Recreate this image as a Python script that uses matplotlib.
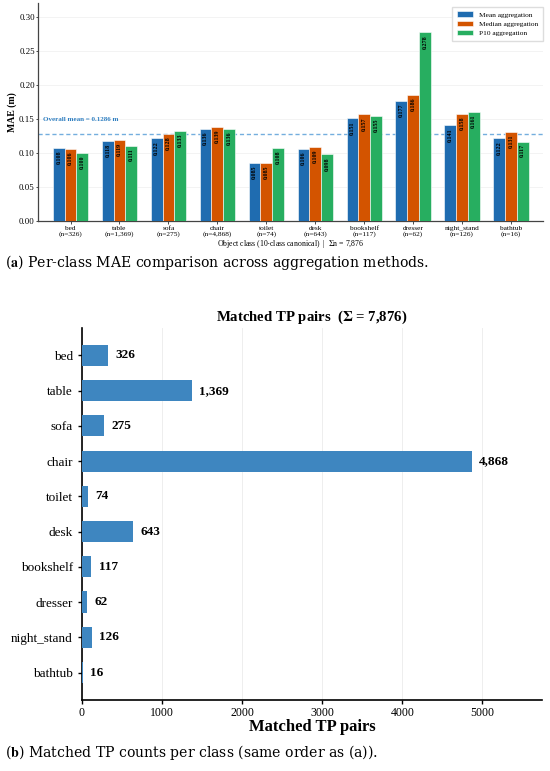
import numpy as np
import matplotlib
matplotlib.use("Agg")
import matplotlib.pyplot as plt

# ---- data ----
classes = ["bed", "table", "sofa", "chair", "toilet", "desk",
           "bookshelf", "dresser", "night_stand", "bathtub"]
counts = [326, 1369, 275, 4868, 74, 643, 117, 62, 126, 16]
mae_mean = [0.108, 0.118, 0.122, 0.136, 0.085, 0.106, 0.151, 0.177, 0.141, 0.122]
mae_median = [0.106, 0.119, 0.128, 0.139, 0.085, 0.109, 0.157, 0.186, 0.158, 0.131]
mae_p10 = [0.100, 0.111, 0.133, 0.136, 0.108, 0.098, 0.155, 0.278, 0.161, 0.117]
overall_mean = 0.1286

plt.rcParams["font.family"] = ["Liberation Serif", "DejaVu Serif"]
plt.rcParams["mathtext.fontset"] = "stix"

fig = plt.figure(figsize=(5.5, 7.71), dpi=100)

# ---- (a) grouped bars ----
ax1 = fig.add_axes([0.0696, 0.7134, 0.918, 0.2823])
x = np.arange(len(classes))
w = 0.24
series = [("Mean aggregation", mae_mean, "#1f6cb0"),
          ("Median aggregation", mae_median, "#d35400"),
          ("P10 aggregation", mae_p10, "#27ae60")]
for i, (lab, vals, col) in enumerate(series):
    bars = ax1.bar(x + (i - 1) * w, vals, w, color=col, label=lab,
                   edgecolor="white", linewidth=0.4, zorder=3)
    for b, v in zip(bars, vals):
        ax1.text(b.get_x() + b.get_width() / 2, v - 0.004, f"{v:.3f}",
                 rotation=90, ha="center", va="top", fontsize=4.3,
                 fontweight="bold", color="black", zorder=4)

ax1.axhline(overall_mean, color="#74aede", linestyle=(0, (3, 2)), linewidth=1.0, zorder=2)
ax1.text(-0.57, overall_mean + 0.017, f"Overall mean = {overall_mean} m",
         color="#2f7fc1", fontsize=5, fontweight="bold", va="bottom", ha="left")

ax1.set_xlim(-0.66, 9.66)
ax1.set_ylim(0, 0.3206)
ax1.set_yticks(np.arange(0, 0.31, 0.05))
ax1.set_yticklabels([f"{t:.2f}" for t in np.arange(0, 0.31, 0.05)])
ax1.set_xticks(x)
ax1.set_xticklabels([f"{c}\n(n={n:,})" for c, n in zip(classes, counts)],
                    linespacing=1.0)
ax1.tick_params(axis="x", labelsize=5.3, length=2, width=0.5, pad=1.5)
ax1.tick_params(axis="y", labelsize=6.3, length=1.5, width=0.5, pad=1)
ax1.set_ylabel("MAE (m)", fontsize=7, fontweight="bold", labelpad=1.5)
ax1.set_xlabel(r"Object class (10-class canonical)  |  $\Sigma$n = 7,876",
               fontsize=5.6, labelpad=1)
ax1.grid(axis="y", color="#eeeeee", linewidth=0.5, zorder=0)
for s in ["top", "right"]:
    ax1.spines[s].set_visible(False)
for s in ["left", "bottom"]:
    ax1.spines[s].set_color("#444444")
    ax1.spines[s].set_linewidth(0.9)
ax1.legend(loc="upper right", bbox_to_anchor=(1.006, 1.0), fontsize=5.3,
           frameon=True, framealpha=1, edgecolor="#dddddd", fancybox=False,
           borderpad=0.6, handlelength=2.2, labelspacing=0.45)

fig.text(0.009, 1 - 262 / 771, r"($\mathbf{a}$) Per-class MAE comparison across aggregation methods.",
         fontsize=10.1, va="center", ha="left", family="DejaVu Serif")

# ---- (b) horizontal bars ----
ax2 = fig.add_axes([0.149, 0.0921, 0.8364, 0.4825])
y = np.arange(len(classes))
ax2.barh(y, counts, height=0.6, color="#3e86c0", zorder=3)
for yi, c in zip(y, counts):
    ax2.text(c + 90, yi, f"{c:,}", va="center", ha="left",
             fontsize=9.5, fontweight="bold")
ax2.set_yticks(y)
ax2.set_yticklabels(classes)
ax2.invert_yaxis()
ax2.set_xlim(0, max(counts) * 1.18)
ax2.set_xticks(np.arange(0, 5001, 1000))
ax2.tick_params(axis="y", labelsize=9.5, length=3, width=1)
ax2.tick_params(axis="x", labelsize=8.5, length=3, width=1, pad=2)
ax2.grid(axis="x", color="#eeeeee", linewidth=0.7, zorder=0)
ax2.set_xlabel("Matched TP pairs", fontsize=12, fontweight="bold", labelpad=0)
ax2.set_title(r"Matched TP pairs  ($\mathbf{\Sigma}$ = 7,876)", fontsize=10.6,
              fontweight="bold", pad=5)
for s in ["top", "right"]:
    ax2.spines[s].set_visible(False)
for s in ["left", "bottom"]:
    ax2.spines[s].set_linewidth(1.2)

fig.text(0.009, 1 - 753 / 771, r"($\mathbf{b}$) Matched TP counts per class (same order as (a)).",
         fontsize=10.1, va="center", ha="left", family="DejaVu Serif")

fig.savefig("out.png", dpi=100)
